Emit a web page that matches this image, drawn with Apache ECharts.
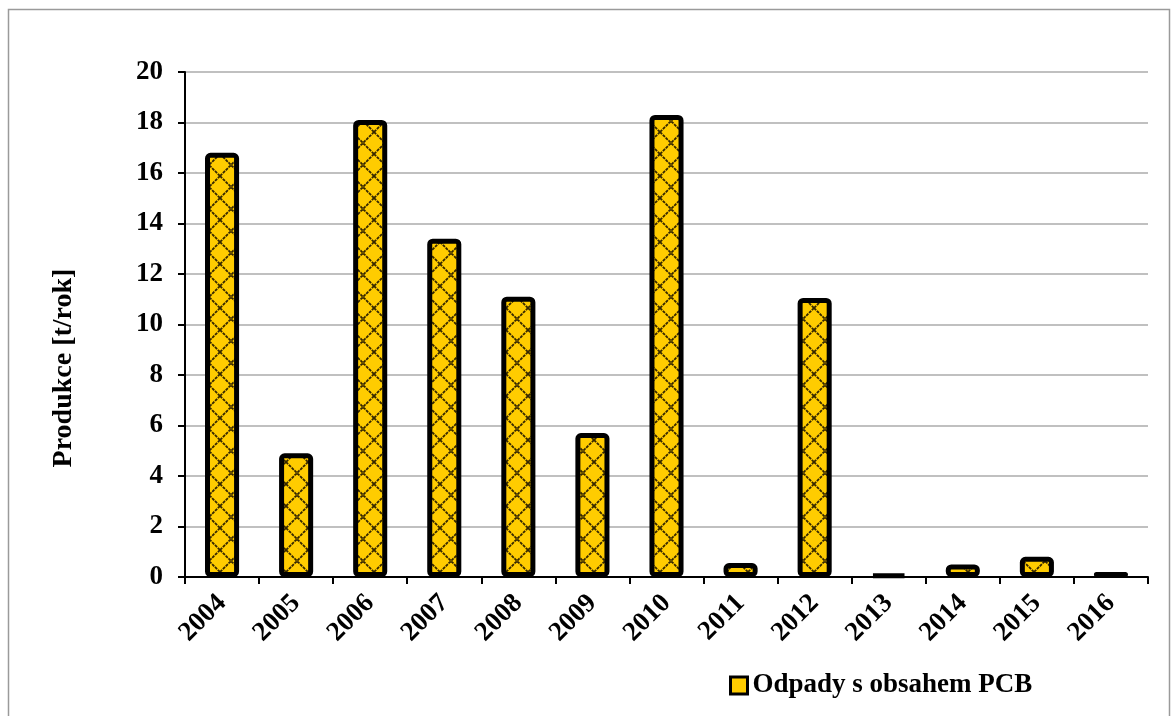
<!DOCTYPE html>
<html><head><meta charset="utf-8">
<script src="https://cdn.jsdelivr.net/npm/echarts@6/dist/echarts.min.js"></script>
<style>html,body{margin:0;padding:0;background:#fff}#c{width:1173px;height:716px}</style>
</head><body><div id="c"></div>
<script>
const categories = ['2004','2005','2006','2007','2008','2009','2010','2011','2012','2013','2014','2015','2016'];
const values = [16.8, 4.9, 18.1, 13.4, 11.1, 5.7, 18.3, 0.55, 11.05, 0.1, 0.5, 0.8, 0.2];
const seriesName = 'Odpady s obsahem PCB';
const yTitle = 'Produkce [t/rok]';

function hatch(){
  const s = 22;
  const c = document.createElement('canvas');
  c.width = s; c.height = s;
  const g = c.getContext('2d');
  g.fillStyle = '#FFCC00'; g.fillRect(0,0,s,s);
  g.strokeStyle = 'rgba(40,28,0,0.95)'; g.lineWidth = 1.8;
  g.setLineDash([3,1]);
  g.beginPath(); g.moveTo(0,0); g.lineTo(s,s); g.moveTo(s,0); g.lineTo(0,s); g.stroke();
  return c;
}
const pat = {image: hatch(), repeat: 'repeat'};
const font = '"Liberation Serif","Times New Roman",serif';
const chart = echarts.init(document.getElementById('c'));
chart.setOption({
  animation:false,
  grid:{left:185, right:25, top:72, bottom:139, containLabel:false},
  graphic:[
    {type:'rect', shape:{x:8.5,y:9.5,width:1161,height:720}, style:{fill:'none', stroke:'#9a9a9a', lineWidth:1.5}, silent:true},
    {type:'text', x:64, y:368, rotation:Math.PI/2,
     style:{text:yTitle, font:'bold 28px ' + font, fill:'#000', align:'center', verticalAlign:'middle'}}
  ],
  legend:{bottom:12, left:724, itemWidth:17, itemHeight:17, itemGap:4,
    textStyle:{fontFamily:font, fontWeight:'bold', fontSize:27, color:'#000'},
    data:[{name:seriesName, icon:'rect', itemStyle:{color:'#FFCC00', borderColor:'#000', borderWidth:3}}]},
  xAxis:{type:'category', data:categories,
    axisLine:{lineStyle:{color:'#000', width:2}},
    axisTick:{show:true, length:7, lineStyle:{color:'#000', width:2}},
    axisLabel:{rotate:45, fontFamily:font, fontWeight:'bold', fontSize:27, color:'#000', margin:22}},
  yAxis:{type:'value', min:0, max:20, interval:2,
    axisLine:{show:true, lineStyle:{color:'#000', width:2}},
    axisTick:{show:true, inside:false, length:7, lineStyle:{color:'#000', width:2}},
    axisLabel:{fontFamily:font, fontWeight:'bold', fontSize:27, color:'#000', margin:22},
    splitLine:{show:true, lineStyle:{color:'#c0c0c0', width:2}}},
  series:[{type:'bar', name:seriesName, data:values, barWidth:'46%',
    itemStyle:{color:pat, borderColor:'#000', borderWidth:5, borderRadius:3}}]
});
</script></body></html>
